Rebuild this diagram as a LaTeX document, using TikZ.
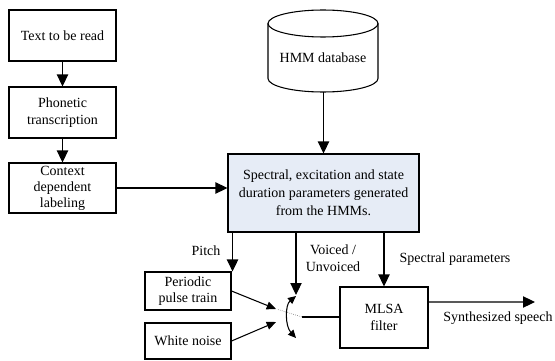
\documentclass[tikz,border=0pt]{standalone}
\usepackage{fontspec}
\setmainfont{Liberation Serif}
\usetikzlibrary{arrows.meta,calc}
\definecolor{specfill}{RGB}{230,236,246}
\begin{document}
\begin{tikzpicture}[x=0.75pt,y=-0.75pt,
  font=\fontsize{10.5}{12.5}\selectfont,
  box/.style={draw,line width=0.8pt,align=center,inner sep=0pt},
  arr/.style={line width=0.8pt,-{Triangle[length=9pt,width=8.5pt]}},
  sarr/.style={line width=0.8pt,-{Triangle[length=7pt,width=6pt]}},
  lbl/.style={align=center,inner sep=0pt}]
\useasboundingbox (0,0) rectangle (555,360);
% left column
\node[box,minimum width=80.25pt,minimum height=38.25pt] (t1) at (62.5,35.5) {Text to be read};
\node[box,minimum width=80.25pt,minimum height=38.25pt] (t2) at (62.5,112.5) {Phonetic\\transcription};
\node[box,minimum width=80.25pt,minimum height=37.5pt,font=\fontsize{10.5}{12}\selectfont] (t3) at (62.5,188) {Context\\dependent\\labeling};
% database cylinder
\draw[line width=0.8pt] (323,23.5) ellipse [x radius=55, y radius=13.5];
\draw[line width=0.8pt] (268,23.5) -- (268,78.5) arc [start angle=180, end angle=0, x radius=55, y radius=13.5] -- (378,23.5);
\node[lbl] (hmm) at (323,58) {HMM database};
\coordinate (hmmbot) at (323.5,92);
% central box
\node[box,fill=specfill,minimum width=143.25pt,minimum height=58.5pt,font=\fontsize{10.5}{13.5}\selectfont] (spec) at (323.5,193) {Spectral, excitation and state\\duration parameters generated\\from the HMMs.};
% excitation boxes
\node[box,minimum width=64.5pt,minimum height=28.5pt] (per) at (188,291) {Periodic\\pulse train};
\node[box,minimum width=64.5pt,minimum height=27pt] (wn) at (188,341) {White noise};
\node[box,minimum width=66pt,minimum height=45.75pt] (mlsa) at (384,317.5) {MLSA\\filter};
% switch coordinates
\coordinate (vtip) at (296,295);
\coordinate (swa) at (276,309);
\coordinate (swb) at (276,322);
\coordinate (swc) at (302,317);
\coordinate (swd) at (278,309.5);
\coordinate (arcA) at (296,296);
\coordinate (arcB) at (296,338);
\coordinate (mout) at ($(mlsa.north east)!0.25!(mlsa.south east)$);
\coordinate (out) at (535,302);
% connectors
\draw[arr] (t1) -- (t2);
\draw[arr] (t2) -- (t3);
\draw[arr] (t3.east) -- (t3.east -| spec.west);
\draw[arr] (hmmbot) -- (spec.north);
\draw[arr] ([xshift=0.75pt]per.north east |- spec.south) -- ([xshift=0.75pt]per.north east);
\draw[arr] (vtip |- spec.south) -- (vtip);
\draw[arr] (mlsa.north |- spec.south) -- (mlsa.north);
\draw[sarr] (per.east) -- (swa);
\draw[sarr] (wn.east) -- (swb);
\draw[gray,line width=0.5pt,densely dotted] (swd) -- (swc);
\draw[line width=0.8pt] (swc) -- (swc -| mlsa.west);
\draw[line width=0.8pt,{Triangle[length=6pt,width=5.5pt]}-{Triangle[length=6pt,width=5.5pt]}] (arcA) .. controls (285,305) and (285,326) .. (arcB);
\draw[arr] (mout) -- (out);
% labels
\node[lbl] (lpitch) at (206,251) {Pitch};
\node[lbl] (lvoice) at (333,258.5) {Voiced /\\Unvoiced};
\node[lbl] (lspec) at (455,259) {Spectral parameters};
\node[lbl] (lsyn) at (498,318) {Synthesized speech};
\end{tikzpicture}
\end{document}
